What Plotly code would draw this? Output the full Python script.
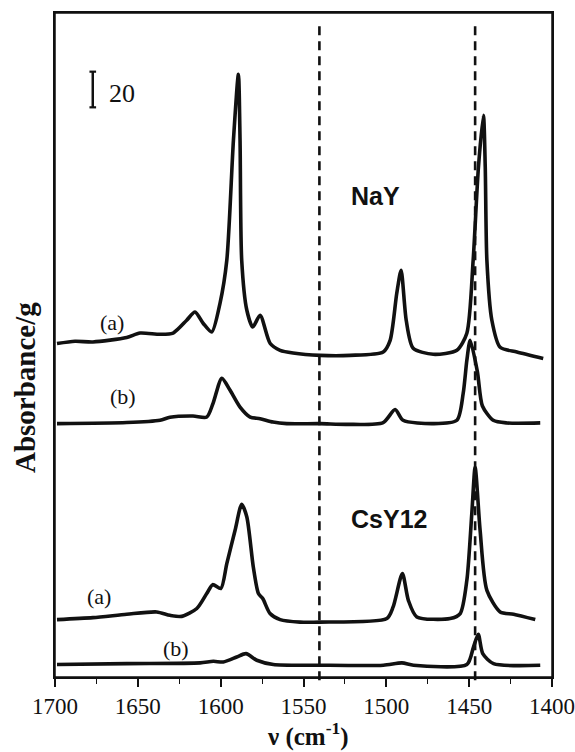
import plotly.graph_objects as go

# ---- data (wavenumber in cm-1, absorbance/g incl. vertical offset) ----
nay_a_x = [1698.8, 1687.9, 1677.1, 1656.7, 1648.7, 1636.6, 1628.7, 1620.5, 1615.5, 1610.6,
           1605.4, 1600.4, 1596.3, 1592.3, 1589.3, 1588.3, 1587.3, 1584.2, 1580.6, 1576.2,
           1570.2, 1564.1, 1556.3, 1540.0, 1521.9, 1501.9, 1497.7, 1493.7, 1491.1, 1488.0,
           1483.8, 1471.7, 1457.4, 1451.4, 1447.6, 1444.4, 1441.4, 1440.3, 1439.3, 1436.3,
           1431.3, 1421.2, 1405.3]
nay_a_y = [187.0, 188.3, 187.9, 190.4, 192.9, 192.2, 192.9, 200.1, 204.7, 198.4,
           193.5, 209.6, 233.7, 301.0, 338.0, 301.0, 233.7, 205.7, 196.3, 202.9,
           187.2, 183.2, 181.7, 180.4, 180.4, 182.3, 188.8, 215.2, 228.1, 200.1,
           184.4, 181.0, 183.2, 192.8, 233.7, 286.0, 315.0, 286.0, 233.7, 200.1,
           184.9, 182.3, 178.7]

nay_b_x = [1698.8, 1656.7, 1636.6, 1630.6, 1616.7, 1608.4, 1604.6, 1599.3, 1594.3, 1588.3,
           1582.2, 1576.2, 1568.4, 1560.1, 1540.0, 1523.9, 1501.9, 1494.7, 1489.9, 1471.7,
           1457.4, 1453.6, 1451.4, 1449.4, 1445.0, 1442.0, 1435.5, 1427.2, 1407.1]
nay_b_y = [142.1, 142.7, 144.0, 145.7, 146.4, 145.8, 153.5, 167.5, 160.8, 151.4,
           145.8, 144.9, 143.0, 142.1, 142.1, 141.7, 142.7, 150.0, 144.0, 142.1,
           144.0, 159.1, 177.6, 188.8, 171.0, 152.0, 144.0, 142.5, 142.5]

csy_a_x = [1698.8, 1677.1, 1656.7, 1638.6, 1630.6, 1623.5, 1614.4, 1608.4, 1604.8, 1599.9,
           1596.3, 1591.3, 1587.3, 1584.2, 1580.3, 1577.2, 1574.6, 1570.2, 1564.1, 1552.1,
           1540.0, 1499.7, 1495.9, 1490.3, 1486.7, 1481.6, 1461.5, 1455.4, 1451.4, 1448.4,
           1446.4, 1443.4, 1439.3, 1431.3, 1423.2, 1410.1]
csy_a_y = [32.2, 33.3, 35.2, 36.5, 34.6, 34.0, 38.4, 46.8, 51.8, 49.6,
           63.6, 82.3, 96.9, 89.7, 61.7, 46.8, 44.0, 35.6, 32.2, 30.8,
           30.8, 32.8, 39.3, 58.0, 43.0, 33.7, 32.8, 35.6, 54.2, 91.8,
           117.6, 82.3, 48.6, 36.5, 35.2, 32.2]

csy_b_x = [1698.8, 1656.7, 1612.4, 1604.4, 1598.4, 1590.3, 1584.7, 1578.2, 1568.2, 1540.0,
           1501.8, 1490.6, 1483.6, 1451.4, 1447.4, 1444.5, 1441.8, 1435.3, 1407.1]
csy_b_y = [7.0, 7.5, 7.9, 8.8, 8.4, 11.2, 13.1, 9.4, 7.0, 6.6,
           6.6, 7.9, 6.6, 7.0, 16.8, 23.9, 13.1, 7.5, 6.6]

ref_lines = [1540.4, 1446.4]
x_ticks = [1700, 1650, 1600, 1550, 1500, 1450, 1400]
x_ticktext = ["1700", "1650", "1600", "1550", "1500", "1450", "1400"]

# ---- figure ----
W, H = 575, 752
L, R, T, B = 55, 23, 13, 75
pw, ph = W - L - R, H - T - B


def px(xp):
    return (xp - L) / pw


def py(yp):
    return (H - B - yp) / ph


serif = "Liberation Serif"
sans = "Liberation Sans"

fig = go.Figure()
for xs, ys in [(nay_a_x, nay_a_y), (nay_b_x, nay_b_y), (csy_a_x, csy_a_y), (csy_b_x, csy_b_y)]:
    fig.add_trace(go.Scatter(x=xs, y=ys, mode="lines",
                             line=dict(color="#111111", width=3.6, shape="spline", smoothing=0.7),
                             showlegend=False, hoverinfo="skip"))

for v in ref_lines:
    fig.add_shape(type="line", xref="x", yref="paper", x0=v, x1=v, y0=-0.005, y1=py(25),
                  line=dict(color="#111111", width=2.6, dash="9px,6px"))

# frame
fig.add_shape(type="rect", xref="paper", yref="paper", x0=0, x1=1, y0=0, y1=1,
              line=dict(color="#111111", width=1.5), fillcolor="rgba(0,0,0,0)")

# scale bar (20 units)
bx = 1677.2
fig.add_shape(type="line", xref="x", yref="y", x0=bx, x1=bx, y0=319.5, y1=339.5,
              line=dict(color="#111111", width=2.5))
for yy in (319.5, 339.5):
    fig.add_shape(type="line", xref="x", yref="y", x0=bx + 2.0, x1=bx - 2.0, y0=yy, y1=yy,
                  line=dict(color="#111111", width=2.2))

ann = [
    ("20", 122, 93, serif, 26, 0),
    ("(a)", 111.5, 322, serif, 22, 0),
    ("(b)", 122.5, 396, serif, 22, 0),
    ("(a)", 99, 596, serif, 22, 0),
    ("(b)", 175.5, 648, serif, 22, 0),
    ("<b>NaY</b>", 375, 196, sans, 25, 0),
    ("<b>CsY12</b>", 389, 519, sans, 25, 0),
    ("<b>ν (cm<sup>-1</sup>)</b>", 308, 734, serif, 25, 0),
    ("<b>Absorbance/g</b>", 25, 388, serif, 29, -90),
]
for txt, x, y, fam, sz, ang in ann:
    fig.add_annotation(text=txt, xref="paper", yref="paper", x=px(x), y=py(y),
                       xanchor="center", yanchor="middle", showarrow=False, textangle=ang,
                       font=dict(family=fam, size=sz, color="#111111"))

fig.update_layout(
    width=W, height=H,
    font=dict(family=serif, color="#111111"),
    margin=dict(l=L, r=R, t=T, b=B, autoexpand=False),
    paper_bgcolor="white", plot_bgcolor="white",
    xaxis=dict(range=[1700, 1400], tickvals=x_ticks, ticktext=x_ticktext, ticks="outside",
               ticklen=8, tickwidth=1.5,
               tickcolor="#111111", showline=True, linecolor="#111111", linewidth=1.5,
               mirror=True, showgrid=False, zeroline=False, automargin=False,
               minor=dict(dtick=25, tick0=1400, ticks="outside", ticklen=5, tickwidth=1.2,
                          tickcolor="#111111", showgrid=False),
               tickfont=dict(family=serif, size=23, color="#111111")),
    yaxis=dict(range=[0, ph / 1.783], showticklabels=False, ticks="", showline=True,
               linecolor="#111111", linewidth=1.5, mirror=True, showgrid=False, zeroline=False,
               automargin=False),
)

fig.write_html("out.html")
